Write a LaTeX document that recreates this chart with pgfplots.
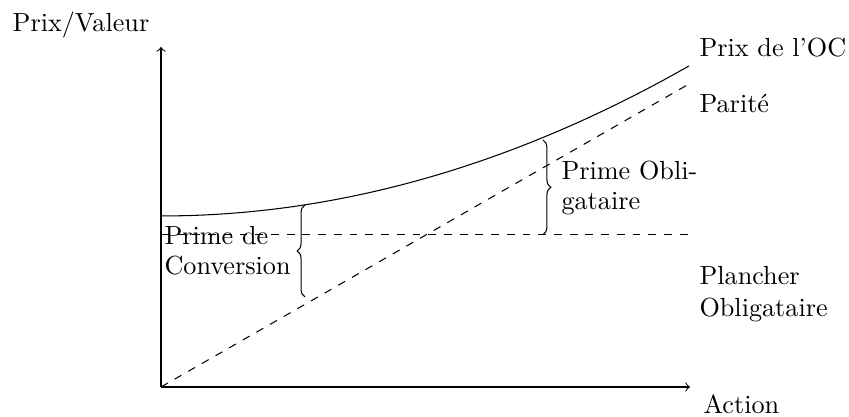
\documentclass[border=0pt]{standalone}
\usepackage{pgfplots}
\pgfplotsset{compat=1.18}
\usetikzlibrary{decorations.pathreplacing}
\begin{document}
\begin{tikzpicture}
\begin{axis}[
  x=0.3817pt, y=0.3817pt,
  xmin=0, xmax=529, ymin=0, ymax=340,
  enlargelimits=false,
  axis lines=left,
  axis line style={-to, line width=0.4pt},
  ticks=none,
  clip=false,
]
% Prix de l'OC
\addplot[black, smooth, line width=0.4pt] coordinates {
(0,171) (26.4,171.37) (52.8,172.5) (79.2,174.38) (105.6,177) (132,180.37)
(158.4,184.5) (184.8,189.38) (211.2,195) (237.6,201.37) (264,208.5)
(290.4,216.37) (316.8,225) (343.2,234.37) (369.6,244.5) (396,255.37)
(422.4,267) (448.8,279.37) (475.2,292.5) (501.6,306.37) (528,321)};
% Parite
\addplot[black, dashed, line width=0.4pt] coordinates {(0,0) (528,303)};
% Plancher obligataire
\addplot[black, dashed, line width=0.4pt] coordinates {(0,152.4) (528,152.4)};
% braces
\draw[decorate, decoration={brace, amplitude=3pt}] (axis cs:144,90) -- (axis cs:144,182);
\draw[decorate, decoration={brace, amplitude=3pt}] (axis cs:382,247) -- (axis cs:382,152.4);
% labels
\node[anchor=base, inner sep=0] at (axis cs:-80,355.5) {Prix/Valeur};
\node[anchor=base west, inner sep=0] at (axis cs:542,-27) {Action};
\node[anchor=base west, inner sep=0] at (axis cs:538,330) {Prix de l'OC};
\node[anchor=base west, inner sep=0] at (axis cs:538,274) {Parité};
\node[anchor=base west, inner sep=0] at (axis cs:538,102) {Plancher};
\node[anchor=base west, inner sep=0] at (axis cs:538,70) {Obligataire};
\node[anchor=base west, inner sep=0] at (axis cs:400,207) {Prime Obli-};
\node[anchor=base west, inner sep=0] at (axis cs:400,177) {gataire};
\node[anchor=base west, inner sep=0] at (axis cs:3,142) {Prime de};
\node[anchor=base west, inner sep=0] at (axis cs:3,112) {Conversion};
\path (axis cs:-161,-30) rectangle (axis cs:688,387);
\end{axis}
\end{tikzpicture}
\end{document}
